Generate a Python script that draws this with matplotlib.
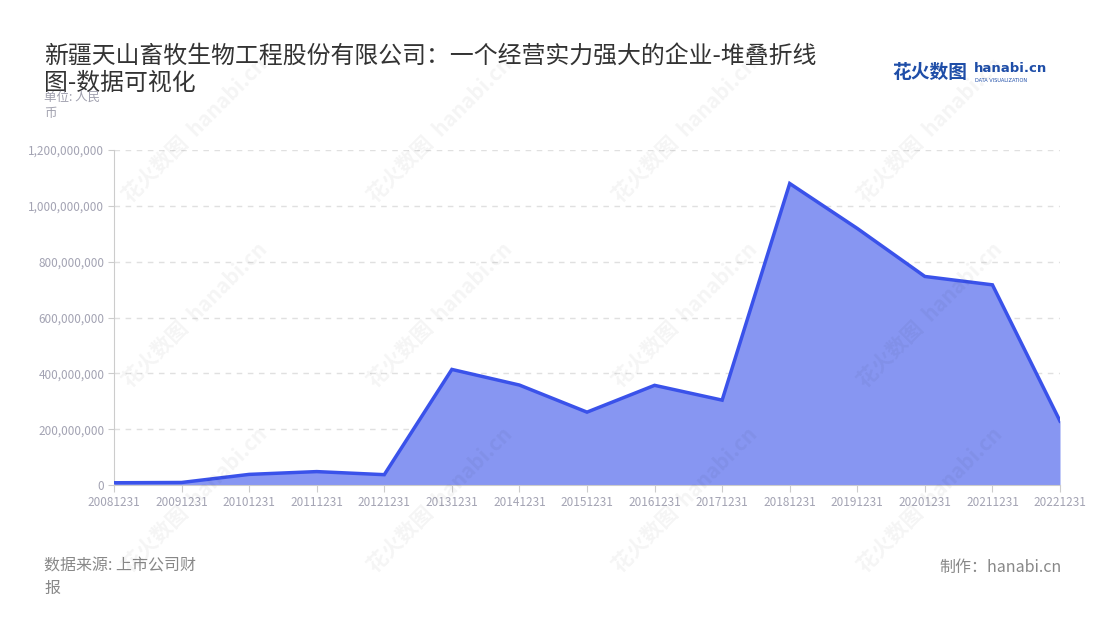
import matplotlib
matplotlib.use("Agg")
import matplotlib.pyplot as plt
from matplotlib.ticker import FuncFormatter, MultipleLocator

plt.rcParams['font.family'] = ['Noto Sans CJK SC', 'DejaVu Sans']

# report dates and values (RMB)
dates = ['20081231', '20091231', '20101231', '20111231', '20121231',
         '20131231', '20141231', '20151231', '20161231', '20171231',
         '20181231', '20191231', '20201231', '20211231', '20221231']
values = [8e6, 9e6, 38e6, 48e6, 37e6,
          414e6, 358e6, 261e6, 357e6, 304e6,
          1080e6, 919e6, 747e6, 717e6, 229e6]

W, H = 1100, 620
fig = plt.figure(figsize=(11, 6.2), dpi=100)
ax = fig.add_axes([114 / W, 1 - 485 / H, (1060 - 114) / W, (485 - 150) / H])

def px(x, y):
    return x / W, 1 - y / H

x = list(range(len(dates)))
ax.fill_between(x, values, 0, color='#8796f2', lw=0, zorder=2)
ax.plot(x, values, color='#3a52ea', lw=2.5, zorder=3, solid_joinstyle='miter')

ax.set_xlim(0, len(dates) - 1)
ax.set_ylim(0, 1.2e9)
ax.set_xticks(x)
ax.set_xticklabels(dates)
ax.yaxis.set_major_locator(MultipleLocator(2e8))
ax.yaxis.set_major_formatter(FuncFormatter(lambda v, p: f'{int(v):,}'))
ax.patch.set_alpha(0)

ax.grid(axis='y', color='#e0e0e0', ls=(0, (4, 4)), lw=1)
ax.set_axisbelow(True)
for s in ['top', 'right']:
    ax.spines[s].set_visible(False)
ax.spines['left'].set_color('#cccccc')
ax.spines['bottom'].set_color('#cccccc')
ax.tick_params(axis='y', length=4, color='#cccccc', labelsize=8.5, labelcolor='#a3a3b3', pad=3)
ax.tick_params(axis='x', length=5, color='#cccccc', labelsize=8.5, labelcolor='#a3a3b3', pad=3)

# faint watermark tiles
for cy in [130, 315, 500]:
    for cx in [195, 440, 685, 930]:
        fig.text(*px(cx, cy), '花火数图  hanabi.cn', rotation=45, fontsize=15,
                 color='#000000', alpha=0.045, ha='center', va='center',
                 fontweight='bold', zorder=5)

# title and texts
fig.text(*px(44, 70), '新疆天山畜牧生物工程股份有限公司：一个经营实力强大的企业-堆叠折线\n图-数据可视化',
         fontsize=17.2, color='#333333', ha='left', va='center', linespacing=1.15)
fig.text(*px(44, 105), '单位: 人民\n币', fontsize=9, color='#a0a0ae', ha='left', va='center',
         linespacing=1.3)
fig.text(*px(44, 577), '数据来源: 上市公司财\n报', fontsize=11.5, color='#888888', ha='left',
         va='center', linespacing=1.4)
fig.text(*px(1062, 567), '制作：hanabi.cn', fontsize=11.5, color='#888888', ha='right', va='center')

# logo
fig.text(*px(892, 72), '花火数图', fontsize=13.5, color='#1f4ea8', fontweight='bold',
         ha='left', va='center')
fig.text(*px(974, 69), 'hanabi.cn', fontsize=9.5, color='#1f4ea8', fontweight='bold',
         ha='left', va='center', family=['DejaVu Sans'])
fig.text(*px(975, 80), 'DATA VISUALIZATION', fontsize=3.6, color='#1f4ea8',
         ha='left', va='center', family=['DejaVu Sans'])

fig.savefig('out.png', dpi=100)
